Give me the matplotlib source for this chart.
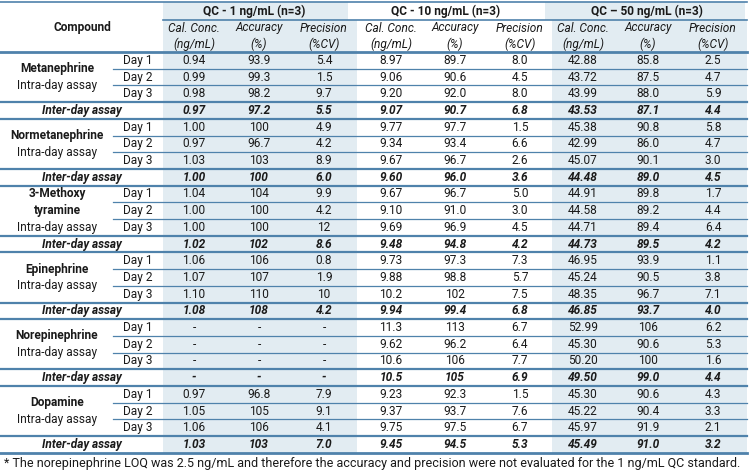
import matplotlib
matplotlib.use("Agg")
import matplotlib.pyplot as plt
from matplotlib.patches import Rectangle

plt.rcParams['font.family'] = ['Roboto', 'DejaVu Sans']

# ---- data ----
compounds = [["Metanephrine"], ["Normetanephrine"], ["3-Methoxy", "tyramine"],
             ["Epinephrine"], ["Norepinephrine"], ["Dopamine"]]
row_labels = ["Day 1", "Day 2", "Day 3", "Inter-day assay"]
groups = ["QC - 1 ng/mL (n=3)", "QC - 10 ng/mL (n=3)", "QC \u2013 50 ng/mL (n=3)"]
sub_top = ["Cal. Conc.", "Accuracy", "Precision"]
sub_bot = ["(ng/mL)", "(%)", "(%CV)"]

# rows: Day1, Day2, Day3, Inter-day for each compound
qc1_cal = ["0.94", "0.99", "0.98", "0.97", "1.00", "0.97", "1.03", "1.00",
           "1.04", "1.00", "1.00", "1.02", "1.06", "1.07", "1.10", "1.08",
           "-", "-", "-", "-", "0.97", "1.05", "1.06", "1.03"]
qc1_acc = ["93.9", "99.3", "98.2", "97.2", "100", "96.7", "103", "100",
           "104", "100", "100", "102", "106", "107", "110", "108",
           "-", "-", "-", "-", "96.8", "105", "106", "103"]
qc1_prec = ["5.4", "1.5", "9.7", "5.5", "4.9", "4.2", "8.9", "6.0",
            "9.9", "4.2", "12", "8.6", "0.8", "1.9", "10", "4.2",
            "-", "-", "-", "-", "7.9", "9.1", "4.1", "7.0"]
qc10_cal = ["8.97", "9.06", "9.20", "9.07", "9.77", "9.34", "9.67", "9.60",
            "9.67", "9.10", "9.69", "9.48", "9.73", "9.88", "10.2", "9.94",
            "11.3", "9.62", "10.6", "10.5", "9.23", "9.37", "9.75", "9.45"]
qc10_acc = ["89.7", "90.6", "92.0", "90.7", "97.7", "93.4", "96.7", "96.0",
            "96.7", "91.0", "96.9", "94.8", "97.3", "98.8", "102", "99.4",
            "113", "96.2", "106", "105", "92.3", "93.7", "97.5", "94.5"]
qc10_prec = ["8.0", "4.5", "8.0", "6.8", "1.5", "6.6", "2.6", "3.6",
             "5.0", "3.0", "4.5", "4.2", "7.3", "5.7", "7.5", "6.8",
             "6.7", "6.4", "7.7", "6.9", "1.5", "7.6", "6.7", "5.3"]
qc50_cal = ["42.88", "43.72", "43.99", "43.53", "45.38", "42.99", "45.07", "44.48",
            "44.91", "44.58", "44.71", "44.73", "46.95", "45.24", "48.35", "46.85",
            "52.99", "45.30", "50.20", "49.50", "45.30", "45.22", "45.97", "45.49"]
qc50_acc = ["85.8", "87.5", "88.0", "87.1", "90.8", "86.0", "90.1", "89.0",
            "89.8", "89.2", "89.4", "89.5", "93.9", "90.5", "96.7", "93.7",
            "106", "90.6", "100", "99.0", "90.6", "90.4", "91.9", "91.0"]
qc50_prec = ["2.5", "4.7", "5.9", "4.4", "5.8", "4.7", "3.0", "4.5",
             "1.7", "4.4", "6.4", "4.2", "1.1", "3.8", "7.1", "4.0",
             "6.2", "5.3", "1.6", "4.4", "4.3", "3.3", "2.1", "3.2"]
footnote = ("* The norepinephrine LOQ was 2.5 ng/mL and therefore the accuracy and "
            "precision were not evaluated for the 1 ng/mL QC standard.")

columns = [qc1_cal, qc1_acc, qc1_prec, qc10_cal, qc10_acc, qc10_prec,
           qc50_cal, qc50_acc, qc50_prec]

# ---- layout (pixels) ----
W, H = 750, 476
col_x = [194, 259, 324, 391, 455, 520, 583, 648, 713]
group_x = [254, 446, 647]
right = 747
y_top = 2
y_grp = 19.5
y_head = 52
row_h = 16.7
line_c = "#4f82ab"
shade_c = "#e2ecf2"
txt_c = "#1a1a1a"
fs = 8.6

fig = plt.figure(figsize=(W / 100, H / 100), dpi=100)
ax = fig.add_axes([0, 0, 1, 1])
ax.set_xlim(0, W)
ax.set_ylim(H, 0)
ax.axis('off')

n_rows = len(qc1_cal)
y_bot = y_head + n_rows * row_h

# shading
ax.add_patch(Rectangle((163, y_top), 185, y_grp - y_top, color=shade_c, lw=0))
ax.add_patch(Rectangle((545, y_top), 200, y_grp - y_top, color=shade_c, lw=0))
ax.add_patch(Rectangle((163, y_grp), 194, y_bot - y_grp, color=shade_c, lw=0))
ax.add_patch(Rectangle((552, y_grp), right - 552, y_bot - y_grp, color=shade_c, lw=0))

# header
ax.plot([0, right], [y_top, y_top], color=line_c, lw=1.2)
ax.plot([163, right], [y_grp, y_grp], color=line_c, lw=1.2)
ax.plot([0, right], [y_head, y_head], color=line_c, lw=2)
ax.text(82, 27, "Compound", ha='center', va='center', fontsize=fs,
        fontweight='bold', color=txt_c)
for gx, g in zip(group_x, groups):
    ax.text(gx, 11.5, g, ha='center', va='center', fontsize=fs,
            fontweight='bold', color=txt_c)
for i, cx in enumerate(col_x):
    ax.text(cx, 28, sub_top[i % 3], ha='center', va='center', fontsize=fs,
            style='italic', color=txt_c)
    ax.text(cx, 44, sub_bot[i % 3], ha='center', va='center', fontsize=fs,
            style='italic', color=txt_c)

# body
for b, name in enumerate(compounds):
    y0 = y_head + b * 4 * row_h
    centers = [y0 + (k + 0.5) * row_h for k in range(4)]
    # compound label
    if len(name) == 1:
        ax.text(57, y0 + row_h, name[0], ha='center', va='center', fontsize=fs,
                fontweight='bold', color=txt_c)
        ax.text(57, y0 + 2 * row_h, "Intra-day assay", ha='center', va='center',
                fontsize=fs, color=txt_c)
    else:
        ax.text(57, centers[0], name[0], ha='center', va='center', fontsize=fs,
                fontweight='bold', color=txt_c)
        ax.text(57, centers[1], name[1], ha='center', va='center', fontsize=fs,
                fontweight='bold', color=txt_c)
        ax.text(57, centers[2], "Intra-day assay", ha='center', va='center',
                fontsize=fs, color=txt_c)
    for k in range(3):
        ax.text(138, centers[k], row_labels[k], ha='center', va='center',
                fontsize=fs, color=txt_c)
    ax.text(82, centers[3], row_labels[3], ha='center', va='center', fontsize=fs,
            fontweight='bold', style='italic', color=txt_c)
    # lines
    for k in (1, 2):
        ax.plot([113, right], [y0 + k * row_h] * 2, color=line_c, lw=0.9)
    ax.plot([0, right], [y0 + 3 * row_h] * 2, color=line_c, lw=1.6)
    ax.plot([0, right], [y0 + 4 * row_h] * 2, color=line_c,
            lw=2 if b == len(compounds) - 1 else 1.6)
    # values
    for k in range(4):
        r = b * 4 + k
        for cx, col in zip(col_x, columns):
            if k == 3:
                ax.text(cx, centers[k], col[r], ha='center', va='center',
                        fontsize=fs, fontweight='bold', style='italic', color=txt_c)
            else:
                ax.text(cx, centers[k], col[r], ha='center', va='center',
                        fontsize=fs, color=txt_c)

ax.text(4, y_bot + 11, footnote, ha='left', va='center', fontsize=9.0,
        color=txt_c)

fig.savefig("out.png", dpi=100)
